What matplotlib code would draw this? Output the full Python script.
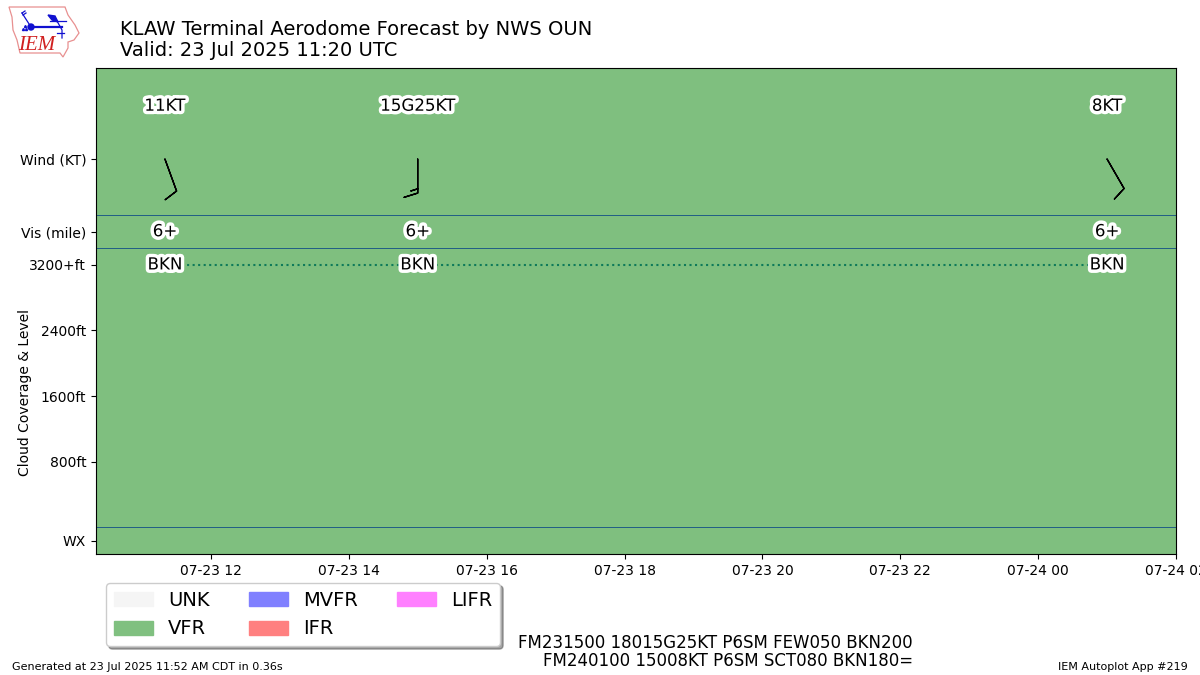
"""KLAW TAF plot, IEM autoplot 219 style."""
from datetime import datetime

import matplotlib
matplotlib.use("Agg")
import matplotlib.dates as mdates
import matplotlib.patheffects as PathEffects
import matplotlib.pyplot as plt
import numpy as np
from matplotlib.patches import Circle, Patch, Polygon

VALID = datetime(2025, 7, 23, 11, 20)
X_START = datetime(2025, 7, 23, 10, 20)
X_END = datetime(2025, 7, 24, 2, 0)

# forecast groups
fcst_times = [VALID, datetime(2025, 7, 23, 15, 0), datetime(2025, 7, 24, 1, 0)]
wind_dir = [160, 180, 150]
wind_speed = [11, 15, 8]
wind_labels = ["11KT", "15G25KT", "8KT"]
vis_labels = ["6+", "6+", "6+"]
cloud_labels = ["BKN", "BKN", "BKN"]
cloud_levels = [3200, 3200, 3200]

ytick_values = [-165, 800, 1600, 2400, 3200, 3600, 4490]
ytick_labels = ["WX", "800ft", "1600ft", "2400ft", "3200+ft", "Vis (mile)", "Wind (KT)"]
divider_levels = [0, 3400, 3810]

cat_names = ["UNK", "VFR", "MVFR", "IFR", "LIFR"]
cat_colors = ["#f5f5f5", "#80c080", "#8080ff", "#ff8080", "#ff80ff"]

WIND_LABEL_Y = 5140
WIND_BARB_Y = 4490
VIS_LABEL_Y = 3610
CLOUD_LABEL_Y = 3205

fig = plt.figure(figsize=(12, 6.75), dpi=100)
ax = fig.add_axes([96 / 1200, 1 - 554 / 675, 1080 / 1200, 486 / 675])

ax.axvspan(X_START, X_END, color="green", alpha=0.5, lw=0, zorder=1)
for lev in divider_levels:
    ax.axhline(lev, color="#236085", lw=0.72, zorder=2)
ax.plot(fcst_times, cloud_levels, ls=":", color="#0f7a5a", lw=1.5, zorder=3)

effects = [PathEffects.withStroke(linewidth=5, foreground="white")]
for i, when in enumerate(fcst_times):
    ax.text(when, WIND_LABEL_Y, wind_labels[i], ha="center", va="center",
            fontsize=12, path_effects=effects, zorder=5)
    ax.text(when, VIS_LABEL_Y, vis_labels[i], ha="center", va="center",
            fontsize=12, path_effects=effects, zorder=5)
    ax.text(when, CLOUD_LABEL_Y, cloud_labels[i], ha="center", va="center",
            fontsize=12, path_effects=effects, zorder=5)

rad = np.radians(wind_dir)
u = -np.array(wind_speed) * np.sin(rad)
v = -np.array(wind_speed) * np.cos(rad)
ax.barbs(mdates.date2num(fcst_times), [WIND_BARB_Y] * 3, u, v, pivot="tip",
         length=7, zorder=4, color="k", linewidth=1)

ax.set_xlim(X_START, X_END)
ax.set_ylim(-325, 5600)
ax.xaxis.set_major_locator(mdates.HourLocator(interval=2))
ax.xaxis.set_major_formatter(mdates.DateFormatter("%m-%d %H"))
ax.set_yticks(ytick_values)
ax.set_yticklabels(ytick_labels)
ax.set_ylabel("Cloud Coverage & Level")
ax.yaxis.set_label_coords(-0.0595, 0.332)

handles = [Patch(color=c, label=n) for n, c in zip(cat_names, cat_colors)]
ax.legend(handles=handles, ncol=3, fontsize=14, shadow=True, loc="upper left",
          bbox_to_anchor=(106 / 1200, 1 - 583 / 675), bbox_transform=fig.transFigure,
          borderaxespad=0)

fig.text(120 / 1200, 1 - 29.5 / 675, "KLAW Terminal Aerodome Forecast by NWS OUN",
         fontsize=14, va="center")
fig.text(120 / 1200, 1 - 50.5 / 675, "Valid: 23 Jul 2025 11:20 UTC", fontsize=14, va="center")
fig.text(913 / 1200, 1 - 652 / 675,
         "FM231500 18015G25KT P6SM FEW050 BKN200\nFM240100 15008KT P6SM SCT080 BKN180=",
         ha="right", va="center", ma="right", fontsize=12, linespacing=1.0)
fig.text(12 / 1200, 1 - 667 / 675, "Generated at 23 Jul 2025 11:52 AM CDT in 0.36s",
         fontsize=8, va="center")
fig.text(1188 / 1200, 1 - 667 / 675, "IEM Autoplot App #219", fontsize=8, va="center", ha="right")

# logo, pixel coordinates
logo = fig.add_axes([0, 1 - 65 / 675, 90 / 1200, 65 / 675])
logo.set_xlim(0, 90)
logo.set_ylim(65, 0)
logo.axis("off")
iowa = [(9, 7), (65, 7), (68, 15), (75, 25), (79, 33), (74, 40), (68, 42), (68, 48),
        (63, 57), (60, 53), (20, 53), (17, 40), (13, 30), (12, 17)]
logo.add_patch(Polygon(iowa, closed=True, fill=False, ec="#e89090", lw=0.9))
blue = "#1010d0"
logo.plot([31, 62], [27, 27], color=blue, lw=1.6)
logo.plot([31, 22], [27, 13], color=blue, lw=0.9)
logo.plot([22, 25], [13, 11], color=blue, lw=0.9)
logo.plot([23, 26], [15, 13], color=blue, lw=0.9)
logo.plot([57, 62, 62], [21, 30, 38], color=blue, lw=0.9)
logo.plot([50, 66], [21, 21], color=blue, lw=0.9)
logo.plot([57, 64], [33, 33], color=blue, lw=0.9)
logo.add_patch(Polygon([(48, 15), (55, 16), (58, 22), (52, 20)], closed=True, color=blue))
logo.add_patch(Circle((31, 27), 3, color=blue))
logo.plot([23, 26, 25], [29, 29, 26], ls="none", marker="^", ms=1.5, color=blue)
logo.text(37, 45, "IEM", color="#d02020", fontsize=15, style="italic",
          family="Liberation Serif", ha="center", va="center")

fig.savefig("out.png", dpi=100)
